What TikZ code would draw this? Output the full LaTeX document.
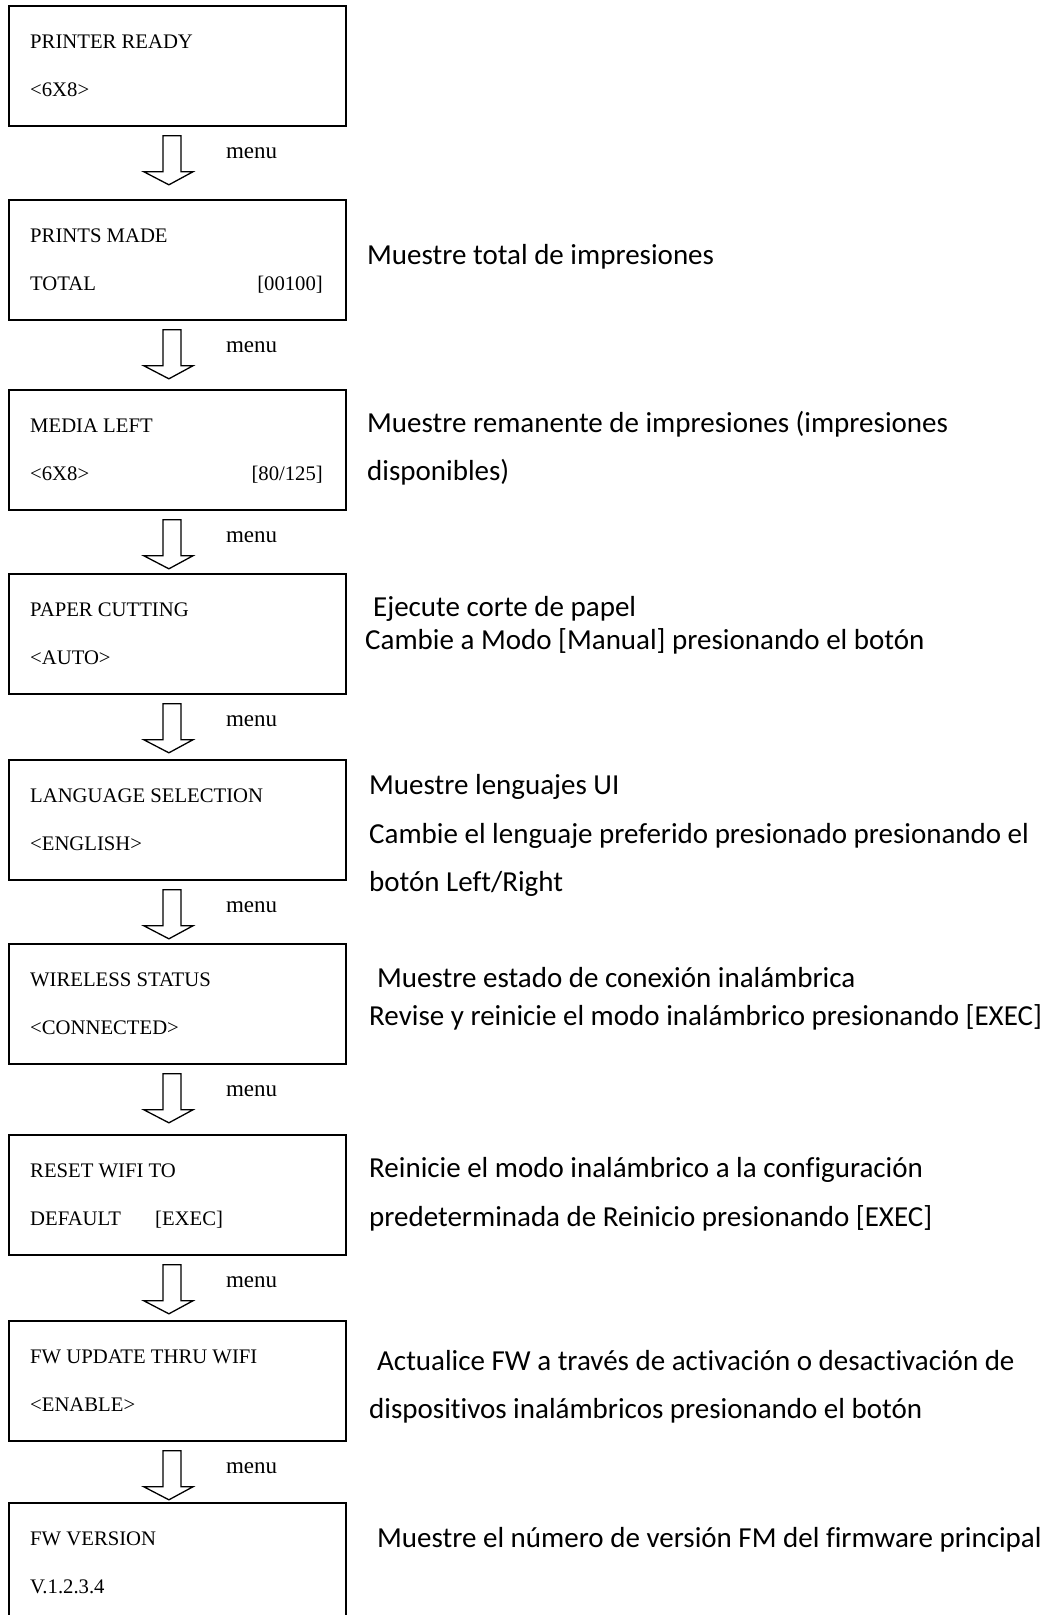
\documentclass[tikz,border=0pt]{standalone}
\usepackage{fontspec}
\setmainfont{Liberation Serif}
\newfontfamily\descfont{Carlito}[Ligatures=CommonOff]
\usetikzlibrary{calc}
\begin{document}
\begin{tikzpicture}[x=1pt,y=-1pt,
  box/.style={draw, line width=1.8pt, minimum width=337pt, minimum height=120pt,
    anchor=north west, inner sep=0pt},
  lcd/.style={anchor=base west, inner sep=0pt, font=\fontsize{20.7}{24}\selectfont},
  lcdr/.style={anchor=base east, inner sep=0pt, font=\fontsize{20.7}{24}\selectfont},
  desc/.style={anchor=base west, inner sep=0pt, font=\descfont\fontsize{29}{34}\selectfont},
  menulbl/.style={anchor=base west, inner sep=0pt, font=\fontsize{23}{27}\selectfont},
  hollow/.style={draw, line width=1.3pt, line join=miter},
  menuarrow/.pic={
    \draw[hollow] (-6,0) -- (-6,36) -- (-25,36) -- (0,49) -- (24,36) -- (12,36) -- (12,0) -- cycle;
    \node[menulbl] (-lbl) at (57,23) {menu};
  }
]
\useasboundingbox (0,0) rectangle (1055,1615);
\clip (0,0) rectangle (1055,1615);

% menu screens
\node[box] (b1) at (8,5) {};
\node[box] (b2) at (8,199) {};
\node[box] (b3) at (8,389) {};
\node[box] (b4) at (8,573) {};
\node[box] (b5) at (8,759) {};
\node[box] (b6) at (8,943) {};
\node[box] (b7) at (8,1134) {};
\node[box] (b8) at (8,1320) {};
\node[box, minimum height=140pt] (b9) at (8,1502) {};

% screen contents
\node[lcd] (t1a) at (30,48.5) {PRINTER READY};
\node[lcd] (t1b) at (30,96) {<6X8>};
\node[lcd] (t2a) at (30,242.5) {PRINTS MADE};
\node[lcd] (t2b) at (30,290) {TOTAL};
\node[lcdr] (t2c) at (323,290) {[00100]};
\node[lcd] (t3a) at (30,432.5) {MEDIA LEFT};
\node[lcd] (t3b) at (30,480) {<6X8>};
\node[lcdr] (t3c) at (323,480) {[80/125]};
\node[lcd] (t4a) at (30,616.5) {PAPER CUTTING};
\node[lcd] (t4b) at (30,664) {<AUTO>};
\node[lcd] (t5a) at (30,802.5) {LANGUAGE SELECTION};
\node[lcd] (t5b) at (30,850) {<ENGLISH>};
\node[lcd] (t6a) at (30,986.5) {WIRELESS STATUS};
\node[lcd] (t6b) at (30,1034) {<CONNECTED>};
\node[lcd] (t7a) at (30,1177.5) {RESET WIFI TO};
\node[lcd] (t7b) at (30,1225) {DEFAULT};
\node[lcd] (t7c) at (155,1225) {[EXEC]};
\node[lcd] (t8a) at (30,1363.5) {FW UPDATE THRU WIFI};
\node[lcd] (t8b) at (30,1411) {<ENABLE>};
\node[lcd] (t9a) at (30,1545.5) {FW VERSION};
\node[lcd] (t9b) at (30,1593) {V.1.2.3.4};

% menu-key arrows between screens
\pic (a1) at ($(b1.south)+(-8.5,9)$) {menuarrow};
\pic (a2) at ($(b2.south)+(-8.5,9)$) {menuarrow};
\pic (a3) at ($(b3.south)+(-8.5,9)$) {menuarrow};
\pic (a4) at ($(b4.south)+(-8.5,9)$) {menuarrow};
\pic (a5) at ($(b5.south)+(-8.5,9)$) {menuarrow};
\pic (a6) at ($(b6.south)+(-8.5,9)$) {menuarrow};
\pic (a7) at ($(b7.south)+(-8.5,9)$) {menuarrow};
\pic (a8) at ($(b8.south)+(-8.5,9)$) {menuarrow};

% descriptions
\node[desc] (d2) at (367,264) {Muestre total de impresiones};
\node[desc] (d3a) at (367,432) {Muestre remanente de impresiones (impresiones};
\node[desc] (d3b) at (367,480) {disponibles)};
\node[desc] (d4a) at (373,616) {Ejecute corte de papel};
\node[desc] (d4b) at (365,649) {Cambie a Modo [Manual] presionando el botón};
\node[desc] (d5a) at (369,794) {Muestre lenguajes UI};
\node[desc] (d5b) at (369,843) {Cambie el lenguaje preferido presionado presionando el};
\node[desc] (d5c) at (369,891) {botón Left/Right};
\node[desc] (d6a) at (377,987) {Muestre estado de conexión inalámbrica};
\node[desc] (d6b) at (369,1025) {Revise y reinicie el modo inalámbrico presionando [EXEC]};
\node[desc] (d7a) at (369,1177) {Reinicie el modo inalámbrico a la configuración};
\node[desc] (d7b) at (369,1226) {predeterminada de Reinicio presionando [EXEC]};
\node[desc] (d8a) at (377,1370) {Actualice FW a través de activación o desactivación de};
\node[desc] (d8b) at (369,1418) {dispositivos inalámbricos presionando el botón};
\node[desc] (d9) at (377,1547) {Muestre el número de versión FM del firmware principal};
\end{tikzpicture}
\end{document}
